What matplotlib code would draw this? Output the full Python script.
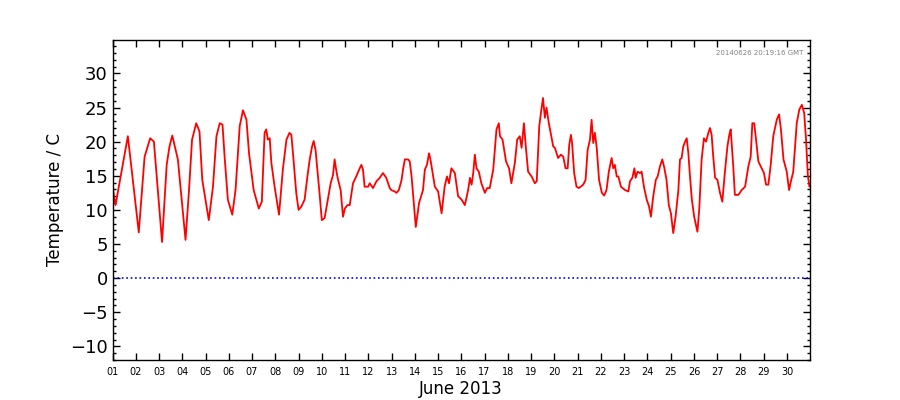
import numpy as np
import pandas as pd
import matplotlib
matplotlib.use('Agg')
import matplotlib.pyplot as plt
import matplotlib.dates as mdates
from matplotlib.ticker import MultipleLocator

# days since 2013-06-01 00:00 and temperature (C)
days = [0.00, 0.04, 0.13, 0.66, 1.13, 1.38, 1.62, 1.78, 2.13, 2.33, 2.45, 2.57, 2.74, 2.81,
        3.14, 3.29, 3.42, 3.60, 3.74, 3.86, 4.14, 4.32, 4.47, 4.61, 4.73, 4.82, 4.96, 5.15,
        5.29, 5.47, 5.61, 5.76, 5.87, 6.07, 6.29, 6.42, 6.54, 6.61, 6.68, 6.76, 6.83, 6.97,
        7.16, 7.33, 7.48, 7.61, 7.69, 7.76, 7.90, 8.00, 8.12, 8.26, 8.38, 8.48, 8.58, 8.65,
        8.73, 8.81, 8.90, 9.00, 9.12, 9.26, 9.38, 9.48, 9.55, 9.63, 9.70, 9.81, 9.91, 9.99,
        10.10, 10.20, 10.34, 10.48, 10.63, 10.70, 10.77, 10.84, 10.99, 11.06, 11.20, 11.35,
        11.49, 11.63, 11.77, 11.92, 11.99, 12.13, 12.21, 12.31, 12.43, 12.49, 12.57, 12.71,
        12.78, 12.86, 13.04, 13.18, 13.35, 13.43, 13.52, 13.61, 13.67, 13.79, 13.86, 14.00,
        14.15, 14.28, 14.38, 14.47, 14.57, 14.72, 14.86, 15.01, 15.15, 15.29, 15.37, 15.44,
        15.51, 15.58, 15.65, 15.75, 15.86, 16.01, 16.11, 16.22, 16.37, 16.44, 16.51, 16.61,
        16.66, 16.77, 16.92, 17.05, 17.15, 17.30, 17.40, 17.51, 17.59, 17.69, 17.77, 17.87,
        18.02, 18.16, 18.24, 18.35, 18.44, 18.51, 18.59, 18.66, 18.76, 18.95, 19.02, 19.16,
        19.28, 19.38, 19.48, 19.57, 19.64, 19.71, 19.76, 19.85, 19.95, 20.05, 20.24, 20.34,
        20.43, 20.53, 20.60, 20.67, 20.74, 20.82, 20.92, 21.04, 21.14, 21.24, 21.34, 21.46,
        21.53, 21.60, 21.68, 21.75, 21.86, 22.04, 22.18, 22.25, 22.35, 22.44, 22.49, 22.58,
        22.68, 22.75, 22.86, 22.97, 23.07, 23.15, 23.25, 23.36, 23.44, 23.54, 23.64, 23.73,
        23.82, 23.92, 24.01, 24.11, 24.21, 24.33, 24.40, 24.47, 24.54, 24.62, 24.69, 24.76,
        24.83, 24.91, 25.01, 25.15, 25.23, 25.33, 25.43, 25.52, 25.62, 25.69, 25.76, 25.83,
        25.91, 26.01, 26.12, 26.22, 26.34, 26.44, 26.52, 26.58, 26.62, 26.69, 26.76, 26.91,
        27.05, 27.20, 27.34, 27.44, 27.51, 27.59, 27.67, 27.77, 27.91, 28.01, 28.10, 28.20,
        28.30, 28.41, 28.56, 28.66, 28.74, 28.85, 28.99, 29.09, 29.17, 29.27, 29.42, 29.53,
        29.64, 29.74, 29.82, 29.90, 29.97, 29.99]
temps = [13.5, 12.6, 10.7, 20.8, 6.7, 17.8, 20.5, 20.0, 5.3, 16.6, 19.3, 20.9, 18.4, 17.4,
         5.6, 12.9, 20.3, 22.7, 21.5, 14.4, 8.5, 13.4, 20.8, 22.7, 22.5, 17.8, 11.5, 9.3,
         12.9, 22.3, 24.6, 23.2, 18.3, 12.9, 10.2, 11.2, 21.3, 21.8, 20.3, 20.5, 16.9, 13.4,
         9.3, 16.1, 20.3, 21.3, 21.0, 18.3, 12.5, 10.0, 10.5, 11.5, 14.9, 17.4, 19.3, 20.1,
         18.8, 15.9, 12.5, 8.5, 8.8, 11.5, 13.9, 15.1, 17.4, 15.6, 14.4, 12.9, 9.0, 10.2,
         10.7, 10.7, 13.9, 14.9, 16.1, 16.6, 15.9, 13.4, 13.4, 13.9, 13.2, 14.2,
         14.7, 15.4, 14.7, 13.2, 12.9, 12.7, 12.5, 12.9, 14.4, 15.9, 17.4, 17.4,
         17.1, 14.9, 7.5, 11.0, 12.9, 15.9, 16.6, 18.3, 17.4, 14.9, 13.4, 12.7,
         9.5, 13.4, 14.9, 13.9, 16.1, 15.4, 12.0, 11.5, 10.7, 12.9, 14.7, 13.7,
         15.4, 18.1, 16.1, 15.6, 13.9, 12.5, 13.2, 13.2, 15.9, 18.8, 21.8, 22.7,
         20.8, 20.3, 17.1, 16.1, 13.9, 16.9, 20.3, 20.8, 19.1, 22.7, 19.3, 15.6,
         14.9, 13.9, 14.2, 22.3, 24.7, 26.4, 23.5, 25.0, 22.7, 19.3, 19.1, 17.6,
         18.1, 17.8, 16.1, 16.1, 19.6, 21.0, 19.8, 15.4, 13.4, 13.2, 13.7, 14.4,
         18.8, 20.3, 23.2, 19.8, 21.3, 19.1, 14.4, 12.5, 12.1, 12.9, 15.6, 17.6,
         16.1, 16.6, 14.9, 14.9, 13.4, 12.9, 12.7, 14.2, 14.7, 16.1, 14.7, 15.6,
         15.4, 15.6, 13.2, 11.5, 10.5, 9.0, 12.0, 14.4, 14.9, 16.4, 17.4, 16.1,
         14.4, 10.7, 9.5, 6.6, 9.0, 12.9, 17.4, 17.6, 19.3, 20.0, 20.5, 18.3,
         14.9, 11.5, 9.0, 6.8, 10.2, 17.4, 20.5, 20.0, 21.3, 22.0, 21.0, 17.8,
         14.7, 14.4, 12.5, 11.2, 15.9, 19.3, 21.0, 21.8, 19.8, 16.4, 12.2, 12.2,
         12.9, 13.4, 16.4, 17.8, 22.7, 22.7, 20.3, 17.1, 16.1, 15.4, 13.7, 13.7,
         16.6, 20.8, 23.2, 24.0, 21.8, 17.4, 15.6, 12.9, 14.2, 15.6, 22.7, 24.7,
         25.4, 24.2, 20.3, 14.9, 13.4, 13.7]

stamp = '20140626 20:19:16 GMT'
times = pd.Timestamp('2013-06-01') + pd.to_timedelta(np.array(days), unit='D')

fig = plt.figure(figsize=(9, 4), dpi=100)
ax = fig.add_axes([0.125, 0.1, 0.775, 0.8])

ax.plot(times, temps, color='red', lw=1.3)
ax.axhline(0, color='blue', ls=':', lw=1.2)

ax.set_xlim(times[0], times[-1])
ax.set_ylim(-12, 34.9)

ax.xaxis.set_major_locator(mdates.DayLocator())
ax.xaxis.set_major_formatter(mdates.DateFormatter('%d'))
ax.yaxis.set_major_locator(MultipleLocator(5))
ax.yaxis.set_minor_locator(MultipleLocator(1))

ax.tick_params(which='both', direction='in', top=True, right=True)
ax.tick_params(which='major', length=5, width=1)
ax.tick_params(which='minor', length=2.5, width=1)
ax.tick_params(axis='x', labelsize=7, pad=5)
ax.tick_params(axis='y', labelsize=13)
for s in ax.spines.values():
    s.set_linewidth(1)

ax.set_ylabel('Temperature / C', fontsize=12)
ax.set_xlabel('June 2013', fontsize=12, labelpad=2)
ax.text(0.99, 0.97, stamp, transform=ax.transAxes, ha='right', va='top',
        fontsize=5, color='gray')

fig.savefig('out.png', dpi=100)
